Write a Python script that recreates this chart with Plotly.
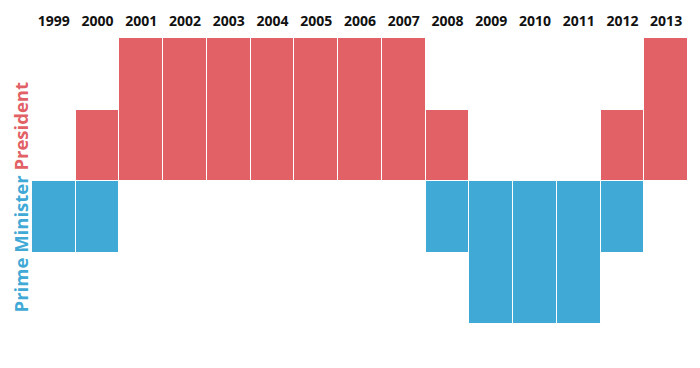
import plotly.graph_objects as go

years = ["1999", "2000", "2001", "2002", "2003", "2004", "2005", "2006",
         "2007", "2008", "2009", "2010", "2011", "2012", "2013"]
president = [0, 1, 2, 2, 2, 2, 2, 2, 2, 1, 0, 0, 0, 1, 2]
prime_minister = [-1, -1, 0, 0, 0, 0, 0, 0, 0, -1, -2, -2, -2, -1, 0]

RED = "#E26166"
BLUE = "#41A9D6"

fig = go.Figure()
fig.add_trace(go.Bar(x=years, y=president, name="President",
                     marker=dict(color=RED, line=dict(color="white", width=1))))
fig.add_trace(go.Bar(x=years, y=prime_minister, name="Prime Minister",
                     marker=dict(color=BLUE, line=dict(color="white", width=1))))

fig.update_layout(
    width=700, height=368,
    margin=dict(l=24, r=20, t=30, b=52, autoexpand=False),
    paper_bgcolor="white", plot_bgcolor="white",
    barmode="relative", bargap=0,
    showlegend=False,
    font=dict(family="Open Sans", color="#111111"),
    xaxis=dict(side="top", showgrid=False, zeroline=False, showline=False,
               automargin=False,
               ticks="", tickfont=dict(size=14, family="Open Sans", weight="bold"),
               ticklabelstandoff=8),
    yaxis=dict(range=[-2, 2], showgrid=False, zeroline=False, showline=False,
               automargin=False,
               showticklabels=False, ticks=""),
)

fig.add_annotation(
    text=f"<span style='color:{BLUE}'>Prime Minister</span> <span style='color:{RED}'>President</span>",
    textangle=-90, xref="paper", yref="paper", x=-0.017, y=0.442,
    xanchor="center", yanchor="middle", showarrow=False,
    font=dict(size=18.5, family="Open Sans", weight="bold"),
)

fig.write_html("out.html")
